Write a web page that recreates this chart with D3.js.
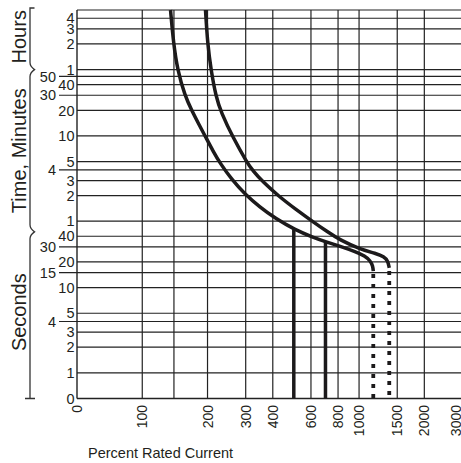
<!DOCTYPE html>
<html><head><meta charset="utf-8">
<script src="https://cdn.jsdelivr.net/npm/d3@7"></script>
<style>
body{margin:0;background:#fff}
svg{display:block}
text{font-family:"Liberation Sans",Arial,Helvetica,sans-serif;fill:#231f20}
</style>
</head><body>
<svg id="chart" width="461" height="463"></svg>
<script>
// ---------- data ----------
// x axis: percent rated current (0 is drawn at the axis origin)
const xGridValues = [100, 140, 200, 300, 400, 600, 800, 1000, 1500, 2000, 3000];
const xTickValues = [0, 100, 200, 300, 400, 600, 800, 1000, 1500, 2000, 3000];
const xTickLabels = ["0", "100", "200", "300", "400", "600", "800", "1000", "1500", "2000", "3000"];

// y axis: time in seconds (0 is drawn at the axis origin)
const yInnerTicks  = [14400, 10800, 7200, 3600, 2400, 1200, 600, 300, 180, 120, 60, 40, 20, 10, 5, 3, 2, 1, 0];
const yInnerLabels = ["4", "3", "2", "1", "40", "20", "10", "5", "3", "2", "1", "40", "20", "10", "5", "3", "2", "1", "0"];
const yOuterTicks  = [3000, 1800, 240, 30, 15, 4];
const yOuterLabels = ["50", "30", "4", "30", "15", "4"];

const unitGroups = ["Hours", "Time, Minutes", "Seconds"];
const unitBreaks = [3600, 45];          // seconds where the unit bracket breaks

// time-current curves (percent, seconds)
const curveLowPct = [135, 139.3, 145.4, 157.4, 169.6, 182.7, 196.8, 212, 228.3, 259.3, 297.8, 349, 409.5, 506.4, 613, 704, 817, 958, 1065, 1129, 1157, 1163];
const curveLowSec = [18000, 7381, 3560, 1764, 1176, 817, 572, 399.5, 288, 183.6, 124.1, 87.6, 65.1, 47.6, 38.9, 34.4, 30.5, 26.5, 23.5, 20.5, 17.9, 15.6];
const curveHighPct = [195.7, 200, 207.5, 218.9, 230.8, 262.2, 304.2, 324.2, 360.5, 427.3, 512, 613, 711.5, 817, 1010, 1197, 1303, 1360, 1378];
const curveHighSec = [18000, 7381, 3560, 1717, 1145, 572, 293, 232.8, 173, 117, 82.3, 59.2, 45.4, 36.1, 28.3, 25.1, 23.1, 20.5, 17];

// instantaneous pickup settings (solid verticals)
const instPct = [500, 700];
const instSec = [48, 34.6];
// trip limits (dotted verticals)
const tripPct = [1163, 1378];
const tripSec = [15.6, 17];

// ---------- chart ----------
const svg = d3.select("#chart");
const W = 461, H = 463;
const pLeft = 77, pTop = 10, pBottom = 398.5;

const xFloor = 50, yFloor = 0.5;
const x = d3.scaleLog().domain([xFloor, 3000]).range([pLeft, 462.5]);
const y = d3.scaleLog().domain([yFloor, 18000]).range([pBottom, pTop]);
const xp = v => x(Math.max(v, xFloor));
const yp = s => y(Math.max(s, yFloor));

const ink = "#1c1a1b";

svg.append("defs").append("clipPath").attr("id", "plot")
  .append("rect").attr("x", pLeft).attr("y", pTop - 1).attr("width", W - pLeft).attr("height", pBottom - pTop + 1);

const grid = svg.append("g").attr("stroke", "#222").attr("stroke-width", 1.2);
grid.selectAll("line.v").data(xGridValues).join("line").attr("class", "v")
  .attr("x1", d => xp(d)).attr("x2", d => xp(d)).attr("y1", pTop).attr("y2", pBottom);
grid.selectAll("line.hi").data(yInnerTicks.filter(d => d > 0)).join("line").attr("class", "hi")
  .attr("x1", pLeft).attr("x2", W).attr("y1", d => yp(d)).attr("y2", d => yp(d));
grid.selectAll("line.ho").data(yOuterTicks).join("line").attr("class", "ho")
  .attr("x1", 59).attr("x2", W).attr("y1", d => yp(d)).attr("y2", d => yp(d));
grid.append("line").attr("x1", pLeft).attr("x2", W).attr("y1", pTop).attr("y2", pTop);
grid.append("line").attr("x1", pLeft).attr("x2", W).attr("y1", pBottom).attr("y2", pBottom).attr("stroke-width", 1.4);
grid.append("line").attr("x1", pLeft).attr("x2", pLeft).attr("y1", pTop).attr("y2", pBottom).attr("stroke-width", 1.4);

// y labels
svg.append("g").attr("font-size", 14.5).attr("text-anchor", "end")
  .selectAll("text").data(yInnerTicks).join("text")
  .attr("x", 74.5).attr("y", d => yp(d)).attr("dy", "0.36em")
  .text((d, i) => yInnerLabels[i]);
svg.append("g").attr("font-size", 14.5).attr("text-anchor", "end")
  .selectAll("text").data(yOuterTicks).join("text")
  .attr("x", 56).attr("y", d => yp(d)).attr("dy", "0.36em")
  .text((d, i) => yOuterLabels[i]);

// x labels (rotated)
svg.append("g").attr("font-size", 14).attr("text-anchor", "end")
  .selectAll("text").data(xTickValues).join("text")
  .attr("transform", d => `translate(${Math.min(xp(d), 456)},405) rotate(-90)`)
  .attr("dy", "0.36em")
  .text((d, i) => xTickLabels[i]);

// x title
svg.append("text").attr("x", 88).attr("y", 457.5).attr("font-size", 14.5)
  .text("Percent Rated Current");

// unit bracket
const b1 = yp(unitBreaks[0]), b2 = yp(unitBreaks[1]);
const bx = 30, bk = 34.5;
const bpath = `M${bk},8 H${bx} V${b1 - 7} Q${bx},${b1 - 3} ${bk},${b1} Q${bx},${b1 + 3} ${bx},${b1 + 7} ` +
  `V${b2 - 7} Q${bx},${b2 - 3} ${bk},${b2} Q${bx},${b2 + 3} ${bx},${b2 + 7} V${pBottom} M25,${pBottom} H35`;
svg.append("path").attr("d", bpath).attr("fill", "none").attr("stroke", "#333").attr("stroke-width", 1.3);

const groupCenters = [(8 + b1) / 2 - 2, (b1 + b2) / 2, (b2 + pBottom) / 2 - 3];
svg.append("g").attr("font-size", 20).attr("text-anchor", "middle")
  .selectAll("text").data(unitGroups).join("text")
  .attr("transform", (d, i) => `translate(25.5,${groupCenters[i]}) rotate(-90)`)
  .text(d => d);

// curves
const plot = svg.append("g").attr("clip-path", "url(#plot)");
const line = d3.line().x(d => xp(d[0])).y(d => yp(d[1])).curve(d3.curveBasis);
[[curveLowPct, curveLowSec], [curveHighPct, curveHighSec]].forEach(([p, s]) => {
  plot.append("path").datum(p.map((v, i) => [v, s[i]]))
    .attr("d", line).attr("fill", "none").attr("stroke", ink)
    .attr("stroke-width", 3.5).attr("stroke-linejoin", "round");
});
plot.selectAll("line.inst").data(instPct).join("line").attr("class", "inst")
  .attr("x1", d => xp(d)).attr("x2", d => xp(d))
  .attr("y1", (d, i) => yp(instSec[i])).attr("y2", yp(0))
  .attr("stroke", ink).attr("stroke-width", 3.5);
plot.selectAll("line.trip").data(tripPct).join("line").attr("class", "trip")
  .attr("x1", d => xp(d)).attr("x2", d => xp(d))
  .attr("y1", (d, i) => yp(tripSec[i]) + 3).attr("y2", yp(0))
  .attr("stroke", ink).attr("stroke-width", 3.8).attr("stroke-dasharray", "4,6");
</script>
</body></html>
